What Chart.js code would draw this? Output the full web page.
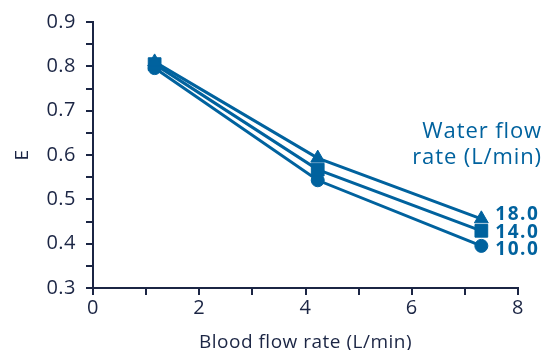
<!DOCTYPE html>
<html><head><meta charset="utf-8">
<script src="https://cdn.jsdelivr.net/npm/chart.js@4/dist/chart.umd.min.js"></script>
<style>html,body{margin:0;padding:0;background:#fff}#wrap{width:543px;height:350px}</style>
</head><body><div id="wrap"><canvas id="c" width="543" height="350"></canvas></div>
<script>
const bloodFlow = [1.16, 4.23, 7.31];
const water18 = [0.81, 0.593, 0.456];
const water14 = [0.805, 0.567, 0.429];
const water10 = [0.796, 0.543, 0.395];
const seriesLabels = ['18.0', '14.0', '10.0'];
const xTickLabels = ['0', '2', '4', '6', '8'];
const yTickLabels = ['0.3', '0.4', '0.5', '0.6', '0.7', '0.8', '0.9'];
const legendTitle = ['Water flow', 'rate (L/min)'];

const BLUE = '#00629e';
const NAVY = '#1b2544';
const FONT = '"Open Sans", sans-serif';

function pts(vals){ return bloodFlow.map((x,i)=>({x, y: vals[i]})); }

const spacingPlugin = {
  id: 'spacing',
  beforeUpdate(chart){ chart.ctx.letterSpacing = '0.5px'; },
  beforeDraw(chart){ chart.ctx.letterSpacing = '0.5px'; }
};

const labelPlugin = {
  id: 'labels',
  afterDatasetsDraw(chart){
    const ctx = chart.ctx;
    const xs = chart.scales.x;
    ctx.save();
    ctx.fillStyle = BLUE;
    ctx.textAlign = 'right';
    ctx.textBaseline = 'alphabetic';
    ctx.letterSpacing = '0.9px';
    ctx.font = '22px ' + FONT;
    ctx.fillText(legendTitle[0], 542, 138);
    ctx.fillText(legendTitle[1], 542, 164);
    ctx.font = 'bold 19px ' + FONT;
    ctx.letterSpacing = '1.5px';
    ctx.textAlign = 'left';
    const baselines = [220, 238, 255];
    chart.data.datasets.forEach((ds, i) => {
      const last = ds.data[ds.data.length-1];
      const px = xs.getPixelForValue(last.x) + 14;
      ctx.fillText(seriesLabels[i], px, baselines[i]);
    });
    ctx.restore();
  }
};

new Chart(document.getElementById('c'), {
  type: 'scatter',
  data: {
    datasets: [
      {label: seriesLabels[0], data: pts(water18), pointStyle: 'triangle', pointRadius: 8},
      {label: seriesLabels[1], data: pts(water14), pointStyle: 'rect', pointRadius: 9},
      {label: seriesLabels[2], data: pts(water10), pointStyle: 'circle', pointRadius: 6.5}
    ].map(d => Object.assign({
      showLine: true, borderColor: BLUE, backgroundColor: BLUE,
      pointBackgroundColor: BLUE, pointBorderColor: BLUE, borderWidth: 3,
      pointBorderWidth: 1, pointHoverRadius: 7
    }, d))
  },
  options: {
    responsive: false, animation: false,
    layout: {padding: {top: 22, right: 25, left: 0, bottom: 0}},
    plugins: {legend: {display: false}, tooltip: {enabled: false}},
    scales: {
      x: {
        type: 'linear', min: 0, max: 8,
        afterFit(s){ s.height = 62; },
        border: {display: true, color: NAVY, width: 2},
        grid: {drawOnChartArea: false, drawTicks: true, tickLength: 7, color: NAVY, lineWidth: 2},
        ticks: {
          stepSize: 1, autoSkip: false, maxRotation: 0, padding: 1,
          color: NAVY, font: {family: FONT, size: 20},
          callback(v){ const i = xTickLabels.indexOf(String(v)); return i >= 0 ? xTickLabels[i] : ''; }
        },
        title: {display: true, text: 'Blood flow rate (L/min)', color: NAVY, font: {family: FONT, size: 19}, padding: {top: 0, bottom: -4}}
      },
      y: {
        type: 'linear', min: 0.3, max: 0.9,
        afterFit(s){ s.width = 93; },
        border: {display: true, color: NAVY, width: 2},
        grid: {drawOnChartArea: false, drawTicks: true, tickLength: 7, color: NAVY, lineWidth: 2},
        ticks: {
          stepSize: 0.05, autoSkip: false, padding: 10,
          color: NAVY, font: {family: FONT, size: 20},
          callback(v){ const s = (Math.round(v*100)/100).toFixed(2); if (s.endsWith('0')) { const t = s.slice(0,3); return yTickLabels.includes(t) ? t : ''; } return ''; }
        },
        title: {display: true, text: 'E', color: NAVY, font: {family: FONT, size: 19}, padding: {top: 11, bottom: 0}}
      }
    }
  },
  plugins: [spacingPlugin, labelPlugin]
});
</script></body></html>
